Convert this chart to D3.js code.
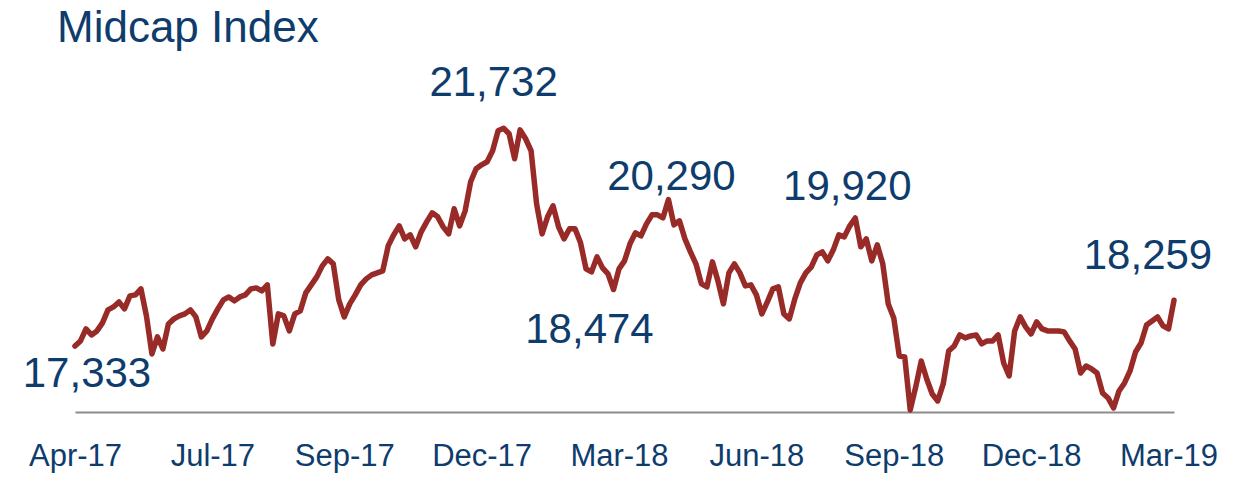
<!DOCTYPE html>
<html>
<head>
<meta charset="utf-8">
<script src="https://cdn.jsdelivr.net/npm/d3@7"></script>
<style>
  html, body { margin: 0; padding: 0; background: #ffffff; }
  svg { display: block; }
  text { font-family: "Liberation Sans", Arial, Helvetica, sans-serif; }
</style>
</head>
<body>
<div id="chart"></div>
<script>
// ---------- data ----------
const title = "Midcap Index";

// evenly spaced observations, Apr-17 .. Mar-19
const values = [
  17333, 17436, 17678, 17557, 17638, 17800, 18063, 18123, 18224, 18083,
  18346, 18366, 18487, 17941, 17173, 17517, 17274, 17779, 17881, 17941,
  17982, 18063, 17921, 17517, 17638, 17881, 18083, 18265, 18325, 18245,
  18325, 18366, 18487, 18507, 18447, 18568, 17375, 17982, 17941, 17638,
  17982, 18043, 18406, 18568, 18730, 18952, 19094, 18993, 18265, 17921,
  18184, 18366, 18568, 18689, 18770, 18811, 18851, 19357, 19579, 19761,
  19498, 19579, 19337, 19640, 19842, 20024, 19943, 19741, 19599, 20105,
  19761, 20064, 20651, 20914, 20994, 21055, 21278, 21682, 21732, 21621,
  21116, 21700, 21520, 21278, 20206, 19599, 19943, 20165, 19741, 19498,
  19701, 19701, 19417, 18892, 18831, 19134, 18912, 18790, 18474, 18892,
  19053, 19397, 19620, 19559, 19801, 19983, 19983, 19923, 20290, 19781,
  19862, 19498, 19235, 18993, 18588, 18528, 19033, 18649, 18184, 18811,
  18993, 18811, 18548, 18568, 18366, 17982, 18224, 18487, 18528, 17982,
  17881, 18285, 18608, 18811, 18932, 19175, 19235, 19053, 19276, 19579,
  19539, 19761, 19920, 19337, 19498, 19053, 19377, 18993, 18184, 17901,
  17132, 17112, 16041, 16506, 17031, 16668, 16365, 16223, 16567, 17233,
  17335, 17557, 17496, 17537, 17557, 17375, 17436, 17436, 17557, 16991,
  16728, 17638, 17921, 17719, 17577, 17820, 17678, 17638, 17638, 17638,
  17618, 17436, 17274, 16789, 16930, 16870, 16789, 16385, 16284, 16081,
  16425, 16587, 16829, 17213, 17395, 17759, 17840, 17921, 17739, 17678,
  18259
];

const tickIndex  = [0, 25, 49, 74, 99, 124, 149, 174, 199];
const tickLabels = ["Apr-17", "Jul-17", "Sep-17", "Dec-17", "Mar-18", "Jun-18", "Sep-18", "Dec-18", "Mar-19"];

const annotationIndex  = [0, 78, 98, 108, 142, 200];
const annotationLabels = ["17,333", "21,732", "18,474", "20,290", "19,920", "18,259"];

const yDomain = [16000, 22000];

// ---------- layout / style ----------
const W = 1243, H = 479;
const navy = "#0e3c6c";
const lineColor = "#982a27";
const axisColor = "#8c8c8c";
// label offsets (px) relative to the annotated point
const annotationOffsets = [[12, 41], [-10, -32], [-24, 53], [3, -10], [-8, -18], [-26, -31]];

const svg = d3.select("#chart").append("svg")
  .attr("width", W).attr("height", H);

const x = d3.scaleLinear().domain([0, values.length - 1]).range([75, 1174]);
const y = d3.scaleLinear().domain(yDomain).range([412, 115]);

// title
svg.append("text")
  .attr("x", 57).attr("y", 42)
  .attr("fill", navy)
  .style("font-size", "44px")
  .text(title);

// x axis
const axis = d3.axisBottom(x)
  .tickValues(tickIndex)
  .tickFormat((d, i) => tickLabels[i])
  .tickSize(0)
  .tickSizeOuter(0)
  .tickPadding(32);

const gAxis = svg.append("g")
  .attr("transform", `translate(0,${y(yDomain[0])})`)
  .call(axis);
gAxis.select(".domain").attr("stroke", axisColor).attr("stroke-width", 2);
gAxis.selectAll("text")
  .attr("fill", navy)
  .style("font-size", "31px")
  .style("font-family", '"Liberation Sans", Arial, sans-serif');

// line
const line = d3.line()
  .x((d, i) => x(i))
  .y(d => y(d));

svg.append("path")
  .datum(values)
  .attr("fill", "none")
  .attr("stroke", lineColor)
  .attr("stroke-width", 5.5)
  .attr("stroke-linejoin", "round")
  .attr("stroke-linecap", "round")
  .attr("d", line);

// annotations
svg.append("g").selectAll("text")
  .data(annotationIndex)
  .join("text")
  .attr("x", (d, i) => x(d) + annotationOffsets[i][0])
  .attr("y", (d, i) => y(values[d]) + annotationOffsets[i][1])
  .attr("text-anchor", "middle")
  .attr("fill", navy)
  .style("font-size", "42px")
  .text((d, i) => annotationLabels[i]);
</script>
</body>
</html>
